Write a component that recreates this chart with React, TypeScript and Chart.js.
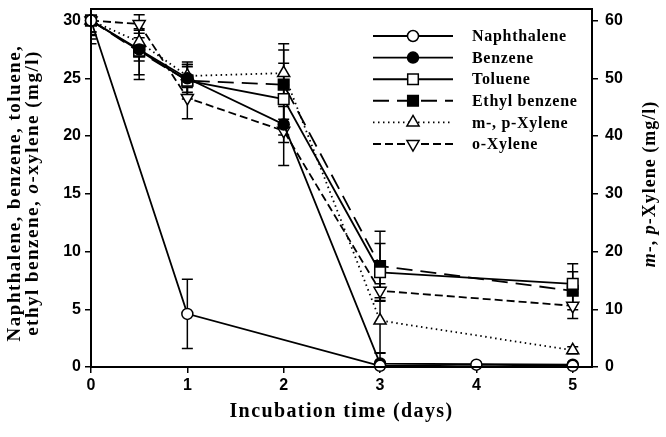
import React, { useEffect, useRef } from "react";
import { Chart, registerables } from "chart.js";

Chart.register(...registerables);

// ---------------- data ----------------
const xTickValues = [0, 1, 2, 3, 4, 5];
const leftTickValues = [0, 5, 10, 15, 20, 25, 30];
const rightTickValues = [0, 10, 20, 30, 40, 50, 60];

const seriesLabels = ["Naphthalene", "Benzene", "Toluene", "Ethyl benzene", "m-, p-Xylene", "o-Xylene"];

const naphthaleneDays = [0, 1, 3, 4, 5];
const naphthaleneMgL = [30, 4.6, 0.1, 0.2, 0.1];
const naphthaleneErr = [1.0, 3.0, 0.2, 0.2, 0.2];

const btexDays = [0, 0.5, 1, 2, 3, 5];
const benzeneMgL = [30, 27.5, 25.0, 21.0, 0.3, 0.2];
const benzeneErr = [1.3, 1.0, 1.2, 1.55, 0.9, 0.2];
const tolueneMgL = [30, 27.4, 24.8, 23.2, 8.2, 7.2];
const tolueneErr = [1.6, 2.5, 1.2, 3.1, 2.5, 1.75];
const ethylbenzeneMgL = [30, 27.3, 24.8, 24.45, 8.75, 6.6];
const ethylbenzeneErr = [2.0, 2.0, 1.6, 3.0, 3.0, 1.65];
const mpXyleneMgL = [60, 56.3, 50.4, 50.9, 8.05, 2.9]; // right axis
const mpXyleneErr = [2.0, 2.0, 2.0, 5.1, 5.6, 0.6];
const oXyleneMgL = [30, 29.7, 23.3, 20.45, 6.6, 5.3];
const oXyleneErr = [1.2, 0.8, 1.8, 3.0, 0.6, 1.1];

const seriesDays = [naphthaleneDays, btexDays, btexDays, btexDays, btexDays, btexDays];
const seriesValues = [naphthaleneMgL, benzeneMgL, tolueneMgL, ethylbenzeneMgL, mpXyleneMgL, oXyleneMgL];
const seriesErrors = [naphthaleneErr, benzeneErr, tolueneErr, ethylbenzeneErr, mpXyleneErr, oXyleneErr];
const seriesAxis = ["y", "y", "y", "y", "y2", "y"];

// ---------------- styles ----------------
type Sty = { pointStyle: string; rotation: number; radius: number; filled: boolean; dash: number[] };
const styles: Sty[] = [
  { pointStyle: "circle", rotation: 0, radius: 5.5, filled: false, dash: [] },
  { pointStyle: "circle", rotation: 0, radius: 5.5, filled: true, dash: [] },
  { pointStyle: "rect", rotation: 0, radius: 7.5, filled: false, dash: [] },
  { pointStyle: "rect", rotation: 0, radius: 7.5, filled: true, dash: [16, 8] },
  { pointStyle: "triangle", rotation: 0, radius: 7, filled: false, dash: [1.5, 3.5] },
  { pointStyle: "triangle", rotation: 180, radius: 7, filled: false, dash: [8, 4] },
];

const SERIF = '"Liberation Serif", "Times New Roman", serif';
const SANS = '"Liberation Sans", Arial, sans-serif';

function drawMarker(ctx: CanvasRenderingContext2D, s: Sty, x: number, y: number) {
  ctx.save();
  ctx.setLineDash([]);
  ctx.lineWidth = 1.5;
  ctx.strokeStyle = "#000";
  ctx.fillStyle = s.filled ? "#000" : "#fff";
  ctx.beginPath();
  const r = s.radius;
  if (s.pointStyle === "circle") {
    ctx.arc(x, y, r, 0, Math.PI * 2);
  } else if (s.pointStyle === "rect") {
    const h = r * Math.SQRT1_2;
    ctx.rect(x - h, y - h, 2 * h, 2 * h);
  } else {
    let rad = (s.rotation * Math.PI) / 180;
    ctx.moveTo(x + Math.sin(rad) * r, y - Math.cos(rad) * r);
    rad += (2 * Math.PI) / 3;
    ctx.lineTo(x + Math.sin(rad) * r, y - Math.cos(rad) * r);
    rad += (2 * Math.PI) / 3;
    ctx.lineTo(x + Math.sin(rad) * r, y - Math.cos(rad) * r);
    ctx.closePath();
  }
  ctx.fill();
  ctx.stroke();
  ctx.restore();
}

type Part = { t: string; i?: boolean };
function drawRich(ctx: CanvasRenderingContext2D, parts: Part[], cx: number, cy: number, size: number, spacing: number) {
  const fontOf = (p: Part) => `${p.i ? "italic " : ""}bold ${size}px ${SERIF}`;
  (ctx as any).letterSpacing = `${spacing}px`;
  let total = 0;
  const widths = parts.map((p) => {
    ctx.font = fontOf(p);
    const w = ctx.measureText(p.t).width;
    total += w;
    return w;
  });
  let x = cx - total / 2;
  ctx.textAlign = "left";
  ctx.textBaseline = "middle";
  parts.forEach((p, k) => {
    ctx.font = fontOf(p);
    ctx.fillText(p.t, x, cy);
    x += widths[k];
  });
  (ctx as any).letterSpacing = "0px";
}

const errorBarPlugin = {
  id: "errorBars",
  beforeDatasetsDraw(chart: any) {
    const { ctx, chartArea: a } = chart;
    ctx.save();
    ctx.beginPath();
    ctx.rect(a.left, a.top, a.right - a.left, a.bottom - a.top);
    ctx.clip();
    ctx.strokeStyle = "#000";
    ctx.lineWidth = 1.5;
    ctx.setLineDash([]);
    const xs = chart.scales.x;
    chart.data.datasets.forEach((ds: any) => {
      const ys = chart.scales[ds.yAxisID];
      ds.data.forEach((p: any, j: number) => {
        const e = ds.errs[j];
        if (!e) return;
        const px = xs.getPixelForValue(p.x);
        const t = ys.getPixelForValue(p.y + e);
        const b = ys.getPixelForValue(p.y - e);
        ctx.beginPath();
        ctx.moveTo(px, t);
        ctx.lineTo(px, b);
        ctx.moveTo(px - 5.5, t);
        ctx.lineTo(px + 5.5, t);
        ctx.moveTo(px - 5.5, b);
        ctx.lineTo(px + 5.5, b);
        ctx.stroke();
      });
    });
    ctx.restore();
  },
};

const framePlugin = {
  id: "frame",
  afterDatasetsDraw(chart: any) {
    const { ctx, chartArea: a } = chart;
    ctx.save();
    ctx.strokeStyle = "#000";
    ctx.lineWidth = 2;
    ctx.setLineDash([]);
    ctx.strokeRect(a.left, a.top, a.right - a.left, a.bottom - a.top);
    ctx.restore();
  },
};

const legendPlugin = {
  id: "customLegend",
  afterDraw(chart: any) {
    const ctx: CanvasRenderingContext2D = chart.ctx;
    ctx.save();
    seriesLabels.forEach((label, i) => {
      const y = 36 + i * 21.6;
      const s = styles[i];
      ctx.strokeStyle = "#000";
      ctx.lineWidth = 1.9;
      ctx.setLineDash(s.dash);
      ctx.beginPath();
      ctx.moveTo(373, y);
      ctx.lineTo(453, y);
      ctx.stroke();
      drawMarker(ctx, s, 413, y);
      ctx.fillStyle = "#000";
      (ctx as any).letterSpacing = "0.7px";
      ctx.font = `bold 16px ${SERIF}`;
      ctx.textAlign = "left";
      ctx.textBaseline = "middle";
      ctx.fillText(label, 472, y + 1);
      (ctx as any).letterSpacing = "0px";
    });
    ctx.restore();
  },
};

const titlesPlugin = {
  id: "axisTitles",
  afterDraw(chart: any) {
    const ctx: CanvasRenderingContext2D = chart.ctx;
    const a = chart.chartArea;
    ctx.save();
    ctx.fillStyle = "#000";
    drawRich(ctx, [{ t: "Incubation time (days)" }], (a.left + a.right) / 2, 412, 20, 1.4);
    ctx.save();
    ctx.translate(15, 193);
    ctx.rotate(-Math.PI / 2);
    drawRich(ctx, [{ t: "Naphthalene, benzene, toluene," }], 0, 0, 19, 1.5);
    drawRich(ctx, [{ t: "ethyl benzene, " }, { t: "o", i: true }, { t: "-xylene (mg/l)" }], 0, 18, 19, 1.5);
    ctx.restore();
    ctx.save();
    ctx.translate(650, 184);
    ctx.rotate(-Math.PI / 2);
    drawRich(ctx, [{ t: "m", i: true }, { t: "-, " }, { t: "p", i: true }, { t: "-Xylene (mg/l)" }], 0, 0, 18, 1.0);
    ctx.restore();
    ctx.restore();
  },
};

export default function App() {
  const ref = useRef<HTMLCanvasElement | null>(null);
  useEffect(() => {
    document.body.style.margin = "0";
    if (!ref.current) return;
    const tickFont = { family: SANS, size: 16, weight: "bold" as const };
    const grid = { display: true, drawOnChartArea: false, drawTicks: true, tickLength: 6, color: "#000", lineWidth: 1.5 };
    const datasets = seriesLabels.map((label, i) => {
      const s = styles[i];
      return {
        label,
        data: seriesDays[i].map((d, j) => ({ x: d, y: seriesValues[i][j] })),
        errs: seriesErrors[i],
        yAxisID: seriesAxis[i],
        borderColor: "#000",
        backgroundColor: s.filled ? "#000" : "#fff",
        pointBackgroundColor: s.filled ? "#000" : "#fff",
        pointBorderColor: "#000",
        pointBorderWidth: 1.5,
        borderWidth: 1.8,
        borderDash: s.dash,
        pointStyle: s.pointStyle,
        pointRotation: s.rotation,
        pointRadius: s.radius,
        pointHoverRadius: s.radius,
        tension: 0,
        fill: false,
        clip: 8,
      };
    });
    const chart = new Chart(ref.current, {
      type: "line",
      data: { datasets } as any,
      options: {
        responsive: false,
        animation: false,
        devicePixelRatio: 1,
        layout: { padding: { top: 5, left: 0, right: 0, bottom: 0 } },
        plugins: { legend: { display: false }, tooltip: { enabled: false } },
        scales: {
          x: {
            type: "linear",
            position: "bottom",
            min: 0,
            max: 5.2,
            afterBuildTicks: (s: any) => {
              s.ticks = xTickValues.map((v) => ({ value: v }));
            },
            ticks: { color: "#000", font: tickFont, padding: 3, maxRotation: 0, autoSkip: false },
            grid,
            border: { display: false },
            afterFit: (s: any) => {
              s.height = 70;
              s.paddingLeft = 0;
              s.paddingRight = 0;
            },
          },
          y: {
            type: "linear",
            position: "left",
            min: 0,
            max: 31,
            afterBuildTicks: (s: any) => {
              s.ticks = leftTickValues.map((v) => ({ value: v }));
            },
            ticks: { color: "#000", font: tickFont, padding: 4, autoSkip: false },
            grid,
            border: { display: false },
            afterFit: (s: any) => {
              s.width = 91;
              s.paddingTop = 0;
              s.paddingBottom = 0;
            },
          },
          y2: {
            type: "linear",
            position: "right",
            min: 0,
            max: 62,
            afterBuildTicks: (s: any) => {
              s.ticks = rightTickValues.map((v) => ({ value: v }));
            },
            ticks: { color: "#000", font: tickFont, padding: 7, autoSkip: false },
            grid,
            border: { display: false },
            afterFit: (s: any) => {
              s.width = 74;
              s.paddingTop = 0;
              s.paddingBottom = 0;
            },
          },
        },
      } as any,
      plugins: [errorBarPlugin, framePlugin, legendPlugin, titlesPlugin],
    });
    return () => chart.destroy();
  }, []);
  return (
    <div style={{ width: 666, height: 437, background: "#fff" }}>
      <canvas ref={ref} width={666} height={437} style={{ display: "block" }} />
    </div>
  );
}
